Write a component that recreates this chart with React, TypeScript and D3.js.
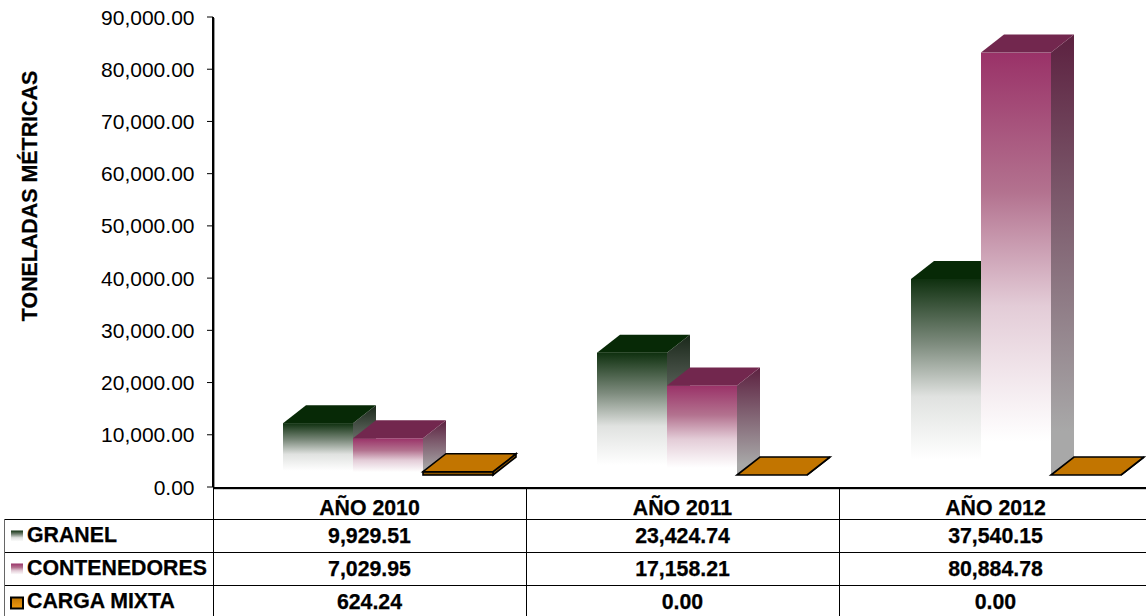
import React from "react";
import * as d3 from "d3";

const years = ["AÑO 2010", "AÑO 2011", "AÑO 2012"];
const seriesNames = ["GRANEL", "CONTENEDORES", "CARGA MIXTA"];
const granel = [9929.51, 23424.74, 37540.15];
const contenedores = [7029.95, 17158.21, 80884.78];
const mixta = [624.24, 0, 0];
const allSeries = [granel, contenedores, mixta];
const ticks = d3.range(0, 90001, 10000);
const front = ["#0f300f", "#9a3268", "#c27500"];
const mid = ["#7d8b7d", "#b3728f", "#c27500"];
const light = ["#e0e2e0", "#e3ccd7", "#c27500"];
const topc = ["#072906", "#72274e", "#c27500"];
const sidec = ["#1a281a", "#5c2140", "#8a5400"];

const W = 1146, H = 616;
const axisX = 213, axisRight = 1146;
const y = d3.scaleLinear().domain([0, 90000]).range([487, 17]);
const x = d3.scaleBand().domain(years).range([axisX, axisX + 939]);
const xBars = d3.scaleBand().domain(years).range([axisX, axisX + 942]);
const barW = 70, dx = 23, dy = 18, lift = 12;
const font = "Liberation Sans, Arial, sans-serif";
const rowLines = [519, 552, 585, 618];
const fmt = d3.format(",.2f");
const bold = 21.3;
const boldStyle = { stroke: "#000", strokeWidth: 0.25 };

export default function App() {
  return (
    <svg width={W} height={H} style={{ position: "absolute", left: 0, top: 0, background: "#fff" }} fontFamily={font}>
      <defs>
        {[0, 1, 2].map((i) => (
          <React.Fragment key={i}>
            <linearGradient id={`f${i}`} x1="0" y1="0" x2="0" y2="1">
              <stop offset="0" stopColor={front[i]} />
              <stop offset="0.33" stopColor={mid[i]} />
              <stop offset="0.6" stopColor={light[i]} />
              <stop offset="0.92" stopColor="#fff" />
              <stop offset="1" stopColor="#fff" />
            </linearGradient>
            <linearGradient id={`s${i}`} x1="0" y1="0" x2="0" y2="1">
              <stop offset="0" stopColor={sidec[i]} />
              <stop offset="0.9" stopColor="#a8a8a8" />
              <stop offset="1" stopColor="#a8a8a8" />
            </linearGradient>
          </React.Fragment>
        ))}
        <linearGradient id="lg2" x1="0" y1="0" x2="0" y2="1">
          <stop offset="0" stopColor="#c27500" />
          <stop offset="1" stopColor="#f09a10" />
        </linearGradient>
      </defs>

      {ticks.map((t) => (
        <g key={t}>
          <line x1={axisX - 6} x2={axisX} y1={y(t)} y2={y(t)} stroke="#000" strokeWidth={1} />
          <text x={194.5} y={y(t)} dy="0.36em" textAnchor="end" fontSize={21} fill="#000">{fmt(t)}</text>
        </g>
      ))}
      <text transform="translate(37,196) rotate(-90)" textAnchor="middle" fontSize={21.4} fontWeight="bold" fill="#000" {...boldStyle}>TONELADAS MÉTRICAS</text>

      {years.map((yr, yi) =>
        [0, 1, 2].map((si) => {
          const v = allSeries[si][yi];
          const x0 = (xBars(yr) as number) + 70 + si * barW;
          const x1 = x0 + barW;
          const base = 487 - lift;
          const top = base - (y(0) - y(v));
          const isMix = si === 2;
          const stroke = isMix ? "#000" : "none";
          const sw = isMix ? 1.6 : 0;
          return (
            <g key={`${yi}-${si}`}>
              <polygon points={`${x1},${top} ${x1 + dx},${top - dy} ${x1 + dx},${base - dy} ${x1},${base}`} fill={isMix ? "#8a5400" : `url(#s${si})`} stroke={stroke} strokeWidth={sw} />
              <rect x={x0} y={top} width={barW} height={base - top} fill={isMix ? "#8a5400" : `url(#f${si})`} stroke={stroke} strokeWidth={sw} />
              <polygon points={`${x0},${top} ${x0 + dx},${top - dy} ${x1 + dx},${top - dy} ${x1},${top}`} fill={topc[si]} stroke={stroke} strokeWidth={sw} />
            </g>
          );
        })
      )}

      <line x1={axisX + 1.5} x2={axisX + 1.5} y1={18} y2={487} stroke="#999" strokeWidth={1} />
      <line x1={axisX} x2={axisX} y1={17} y2={487} stroke="#000" strokeWidth={2} />
      <line x1={axisX} x2={axisRight} y1={489.5} y2={489.5} stroke="#ccc" strokeWidth={1} />
      <line x1={axisX} x2={axisRight} y1={488} y2={488} stroke="#000" strokeWidth={2} />

      {rowLines.map((ly) => (
        <line key={ly} x1={4} x2={W} y1={ly + 0.5} y2={ly + 0.5} stroke="#000" strokeWidth={1} />
      ))}
      <line x1={4.5} x2={4.5} y1={519} y2={616} stroke="#666" strokeWidth={1} />
      {d3.range(0, 3).map((i) => (
        <line key={i} x1={axisX + i * 313 + 0.5} x2={axisX + i * 313 + 0.5} y1={487} y2={616} stroke="#000" strokeWidth={1} />
      ))}

      {years.map((yr) => (
        <text key={yr} x={(x(yr) as number) + x.bandwidth() / 2} y={514.5} textAnchor="middle" fontSize={bold} fontWeight="bold" fill="#000" {...boldStyle}>{yr}</text>
      ))}
      {seriesNames.map((name, si) => {
        const cy = (rowLines[si] + rowLines[si + 1]) / 2;
        return (
          <g key={name}>
            {si < 2 ? (
              <rect x={11} y={cy - 5} width={12} height={12} fill={`url(#f${si})`} />
            ) : (
              <rect x={11} y={cy - 4} width={12} height={11} fill="url(#lg2)" stroke="#000" strokeWidth={2} />
            )}
            <text x={27} y={cy + 6} fontSize={bold} fontWeight="bold" fill="#000" {...boldStyle}>{name}</text>
            {years.map((yr, yi) => (
              <text key={yr} x={(x(yr) as number) + x.bandwidth() / 2} y={cy + 7} textAnchor="middle" fontSize={bold} fontWeight="bold" fill="#000" {...boldStyle}>{fmt(allSeries[si][yi])}</text>
            ))}
          </g>
        );
      })}
    </svg>
  );
}
